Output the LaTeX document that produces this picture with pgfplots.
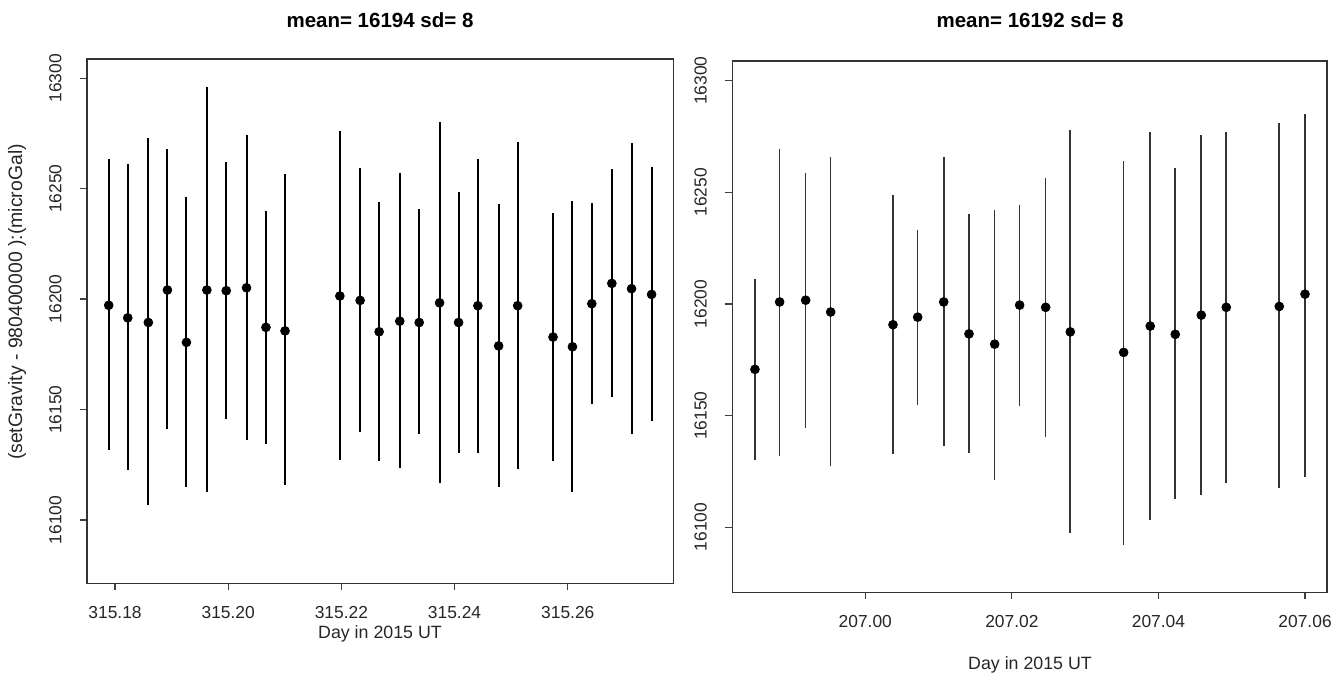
\documentclass[border=0pt]{standalone}
\usepackage{pgfplots}
\usepackage{pgfplotstable}
\pgfplotsset{compat=1.18}
\usepackage{fontspec}
\setmainfont{Liberation Sans}

% day offsets: t = day - 315 (left), t = day - 207 (right); m = mean, hi/lo = bar ends
\pgfplotstableread{
t        m        hi       lo
0.17889  16197.2  16263.3  16131.6
0.18225  16191.5  16261.2  16122.5
0.18589  16189.4  16272.8  16106.7
0.18926  16204.1  16268.0  16141.0
0.19262  16180.4  16246.2  16114.8
0.19623  16204.1  16296.2  16112.6
0.19965  16203.8  16262.2  16145.5
0.20324  16205.1  16274.3  16136.1
0.20667  16187.2  16239.9  16134.3
0.21004  16185.6  16256.6  16116.0
0.21973  16201.4  16276.0  16127.1
0.22331  16199.4  16259.2  16139.9
0.22667  16185.2  16244.1  16126.5
0.23032  16190.0  16257.2  16123.6
0.23375  16189.4  16240.6  16139.1
0.23735  16198.3  16280.3  16116.8
0.24071  16189.4  16248.5  16130.5
0.24412  16197.0  16263.4  16130.2
0.24779  16178.8  16243.2  16114.8
0.25115  16197.0  16271.1  16123.0
0.25740  16182.8  16238.8  16126.5
0.26083  16178.4  16244.5  16112.7
0.26425  16197.9  16243.5  16152.4
0.26779  16207.1  16258.8  16155.6
0.27127  16204.7  16270.7  16138.8
0.27481  16202.1  16259.7  16144.7
}\leftdata

\pgfplotstableread{
t         m        hi       lo
-0.01505  16170.7  16211.0  16130.1
-0.01168  16200.9  16269.3  16131.9
-0.00813  16201.7  16258.5  16144.4
-0.00472  16196.4  16265.7  16127.5
0.00378   16190.7  16248.7  16132.9
0.00715   16194.1  16233.0  16154.7
0.01070   16200.9  16265.7  16136.5
0.01415   16186.6  16240.3  16133.3
0.01765   16182.0  16242.1  16121.1
0.02106   16199.5  16244.2  16154.3
0.02461   16198.5  16256.4  16140.5
0.02797   16187.5  16277.9  16097.2
0.03525   16178.3  16264.0  16092.0
0.03888   16190.1  16277.2  16103.2
0.04229   16186.4  16260.8  16112.6
0.04584   16195.0  16275.5  16114.4
0.04925   16198.5  16277.2  16119.6
0.05648   16198.9  16280.9  16117.4
0.05999   16204.4  16285.1  16122.6
}\rightdata

\pgfplotsset{
  rplot/.style={
    scale only axis,
    anchor=south west,
    scaled ticks=false,
    tick align=outside,
    xtick pos=left, ytick pos=left,
    major tick length=3.5pt,
    tick style={black!75, line width=0.6pt},
    axis line style={black!80, line width=0.8pt},
    ytick={16100,16150,16200,16250,16300},
    yticklabels={16100,16150,16200,16250,16300},
    yticklabel style={rotate=90, anchor=south, inner sep=0pt, text=black!85,
      font=\fontsize{8.7}{10}\selectfont},
    yticklabel shift=9pt,
    xticklabel style={anchor=north, inner sep=0pt, text=black!85,
      font=\fontsize{8.7}{10}\selectfont},
    xticklabel shift=8pt,
  },
  bars/.style={only marks, mark=*, mark size=2.2pt,
    mark options={draw=black, fill=black},
    error bars/.cd, y dir=both, y explicit, error mark=none,
    error bar style={#1}},
}

\begin{document}
\begin{tikzpicture}
\useasboundingbox (0,0) rectangle (672pt,-338.5pt);

\begin{axis}[rplot,
  at={(43.5pt,-291.65pt)},
  width=293.15pt, height=262.15pt,
  xmin=0.17505, xmax=0.27865,
  ymin=16071.3, ymax=16308.7,
  xtick={0.18,0.20,0.22,0.24,0.26},
  xticklabels={315.18,315.20,315.22,315.24,315.26}]
\addplot[bars={black, line width=1pt}] table[x=t, y=m,
  y error plus expr=\thisrow{hi}-\thisrow{m},
  y error minus expr=\thisrow{m}-\thisrow{lo}] {\leftdata};
\end{axis}

\begin{axis}[rplot,
  at={(366.15pt,-296.15pt)},
  width=297.2pt, height=265.8pt,
  xmin=-0.01814, xmax=0.06295,
  ymin=16070.8, ymax=16309,
  xtick={0,0.02,0.04,0.06},
  xticklabels={207.00,207.02,207.04,207.06}]
\addplot[bars={black!80, line width=0.8pt}] table[x=t, y=m,
  y error plus expr=\thisrow{hi}-\thisrow{m},
  y error minus expr=\thisrow{m}-\thisrow{lo}] {\rightdata};
\end{axis}

\node[font=\bfseries\fontsize{10.25}{12}\selectfont] at (190pt,-10pt) {mean= 16194 sd= 8};
\node[font=\bfseries\fontsize{10.25}{12}\selectfont] at (515pt,-10pt) {mean= 16192 sd= 8};
\node[font=\fontsize{8.9}{10}\selectfont, text=black!85] at (190pt,-317pt) {Day in 2015 UT};
\node[font=\fontsize{8.9}{10}\selectfont, text=black!85] at (515pt,-332.5pt) {Day in 2015 UT};
\node[font=\fontsize{9.7}{11}\selectfont, text=black!85, rotate=90] at (8.5pt,-151pt) {(setGravity - 980400000 ):(microGal)};
\end{tikzpicture}
\end{document}
